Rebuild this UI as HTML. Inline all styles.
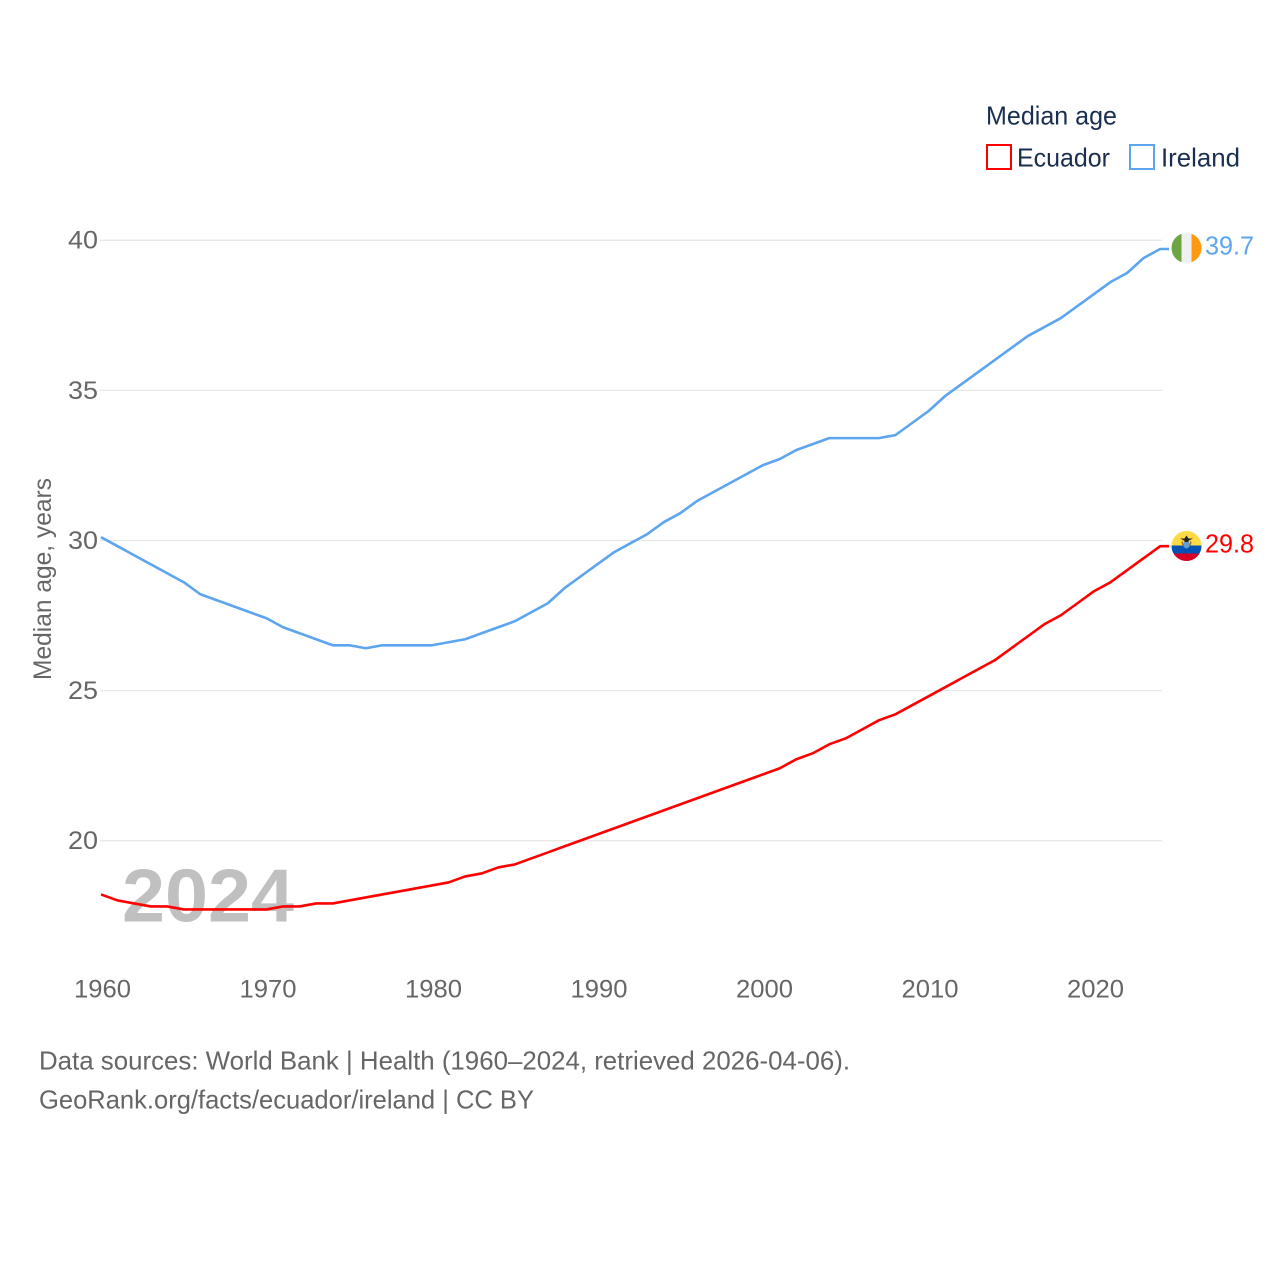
<!DOCTYPE html>
<html lang="en">
<head>
<meta charset="utf-8">
<title>Median age: Ecuador and Ireland</title>
<style>
html,body{margin:0;padding:0;background:#fff;width:1280px;height:1280px;overflow:hidden}
svg{display:block}
text{font-family:"Liberation Sans",sans-serif}
</style>
</head>
<body>
<svg id="chart" width="1280" height="1280" viewBox="0 0 1280 1280" xmlns="http://www.w3.org/2000/svg">
  <g id="grid"></g>
  <text x="122" y="921.500" font-size="75" font-weight="bold" fill="#c0c0c0" textLength="172" lengthAdjust="spacingAndGlyphs">2024</text>
  <g id="yticks"></g>
  <g id="xticks"></g>
  <text transform="translate(51,680) rotate(-90)" font-size="25" fill="#666666" textLength="202" lengthAdjust="spacingAndGlyphs">Median age, years</text>
  <g id="series"></g>

  <g>
    <text x="986" y="124.500" font-size="26" fill="#1a2f50" textLength="131" lengthAdjust="spacingAndGlyphs">Median age</text>
    <rect x="987" y="145" width="24" height="24" fill="none" stroke="#ff0000" stroke-width="2"/>
    <text x="1017" y="166.500" font-size="26" fill="#1a2f50" textLength="93" lengthAdjust="spacingAndGlyphs">Ecuador</text>
    <rect x="1130" y="145" width="24" height="24" fill="none" stroke="#5da5ee" stroke-width="2"/>
    <text x="1161" y="166.500" font-size="26" fill="#1a2f50" textLength="79" lengthAdjust="spacingAndGlyphs">Ireland</text>
  </g>

  <defs>
    <clipPath id="clip-ie"><circle cx="1186.500" cy="248" r="15"/></clipPath>
    <clipPath id="clip-ec"><circle cx="1186.500" cy="546" r="15"/></clipPath>
  </defs>
  <g clip-path="url(#clip-ie)">
    <rect x="1171" y="233" width="10.500" height="30" fill="#6da544"/>
    <rect x="1181.500" y="233" width="10" height="30" fill="#f0f0f0"/>
    <rect x="1191.500" y="233" width="10.500" height="30" fill="#ff9811"/>
  </g>
  <g clip-path="url(#clip-ec)">
    <rect x="1171" y="531" width="31" height="14.500" fill="#ffda44"/>
    <rect x="1171" y="545.500" width="31" height="8" fill="#0052b4"/>
    <rect x="1171" y="553.500" width="31" height="8" fill="#d80027"/>
    <path d="M1180 538.500h13l-4 2h-5z" fill="#222"/>
    <path d="M1186.500 535.500l2 3h-4z" fill="#222"/>
    <path d="M1181.500 541.500a5 6.500 0 0 0 10 0h-1.500a3.500 5 0 0 1-7 0z" fill="#a2691f"/>
    <ellipse cx="1186.500" cy="544.500" rx="3" ry="4" fill="#5f9fd8"/>
    <rect x="1184.500" y="540" width="4" height="2" fill="#222"/>
  </g>

  <text id="ireland-value" x="1205" y="254.500" font-size="25.500" fill="#5da5ee" textLength="49" lengthAdjust="spacingAndGlyphs"></text>
  <text id="ecuador-value" x="1205" y="552.500" font-size="25.500" fill="#ff0000" textLength="49" lengthAdjust="spacingAndGlyphs"></text>

  <g>
    <text x="39" y="1069.500" font-size="26" fill="#666666" textLength="811" lengthAdjust="spacingAndGlyphs">Data sources: World Bank | Health (1960–2024, retrieved 2026-04-06).</text>
    <text x="39" y="1108.500" font-size="26" fill="#666666" textLength="495" lengthAdjust="spacingAndGlyphs">GeoRank.org/facts/ecuador/ireland | CC BY</text>
  </g>
</svg>
<script>
const startYear = 1960;
const xTickYears = [1960, 1970, 1980, 1990, 2000, 2010, 2020];
const yTickValues = [20, 25, 30, 35, 40];
const irelandValues = [30.1,29.8,29.5,29.2,28.9,28.6,28.2,28.0,27.8,27.6,27.4,27.1,26.9,26.7,26.5,26.5,26.4,26.5,26.5,26.5,26.5,26.6,26.7,26.9,27.1,27.3,27.6,27.9,28.4,28.8,29.2,29.6,29.9,30.2,30.6,30.9,31.3,31.6,31.9,32.2,32.5,32.7,33.0,33.2,33.4,33.4,33.4,33.4,33.5,33.9,34.3,34.8,35.2,35.6,36.0,36.4,36.8,37.1,37.4,37.8,38.2,38.6,38.9,39.4,39.7];
const ecuadorValues = [18.2,18.0,17.9,17.8,17.8,17.7,17.7,17.7,17.7,17.7,17.7,17.8,17.8,17.9,17.9,18.0,18.1,18.2,18.3,18.4,18.5,18.6,18.8,18.9,19.1,19.2,19.4,19.6,19.8,20.0,20.2,20.4,20.6,20.8,21.0,21.2,21.4,21.6,21.8,22.0,22.2,22.4,22.7,22.9,23.2,23.4,23.7,24.0,24.2,24.5,24.8,25.1,25.4,25.7,26.0,26.4,26.8,27.2,27.5,27.9,28.3,28.6,29.0,29.4,29.8];

const NS = 'http://www.w3.org/2000/svg';
const xScale = function (year) { return 101 + (year - 1960) * 16.55; };
const yScale = function (v) { return 240 + (40 - v) * 30.02; };
const gridEndX = 1162;

function make(tag, attrs, parent) {
  const el = document.createElementNS(NS, tag);
  Object.keys(attrs).forEach(function (k) { el.setAttribute(k, attrs[k]); });
  parent.appendChild(el);
  return el;
}

yTickValues.forEach(function (v) {
  const line = make('line', { x1: 100, x2: gridEndX, y1: yScale(v) + 0.3, y2: yScale(v) + 0.3, stroke: '#e8e8e8', 'stroke-width': 1.3 }, document.getElementById('grid'));
  
  
  const label = make('text', { x: 98, y: yScale(v) + 8.7, 'text-anchor': 'end', 'font-size': 25, fill: '#666666', textLength: 30, lengthAdjust: 'spacingAndGlyphs' }, document.getElementById('yticks'));
  
  
  label.textContent = String(v);
});

xTickYears.forEach(function (year) {
  const label = make('text', { x: xScale(year) + 1.5, y: 997.5, 'text-anchor': 'middle', 'font-size': 25, fill: '#666666', textLength: 57, lengthAdjust: 'spacingAndGlyphs' }, document.getElementById('xticks'));
  
  
  label.textContent = String(year);
});

function drawSeries(values, color, name) {
  const pts = values.map(function (v, i) { return xScale(startYear + i).toFixed(2) + ',' + yScale(v).toFixed(2); });
  pts.push('1169,' + yScale(values[values.length - 1]).toFixed(2));
  const line = make('polyline', { points: pts.join(' '), fill: 'none', stroke: color, 'stroke-width': 2.6, 'stroke-linejoin': 'round' }, document.getElementById('series'));
  
  
}
drawSeries(irelandValues, '#5da5ee', 'ireland-line');
drawSeries(ecuadorValues, '#ff0000', 'ecuador-line');

document.getElementById('ireland-value').textContent = irelandValues[irelandValues.length - 1].toFixed(1);
document.getElementById('ecuador-value').textContent = ecuadorValues[ecuadorValues.length - 1].toFixed(1);
</script>
</body>
</html>
